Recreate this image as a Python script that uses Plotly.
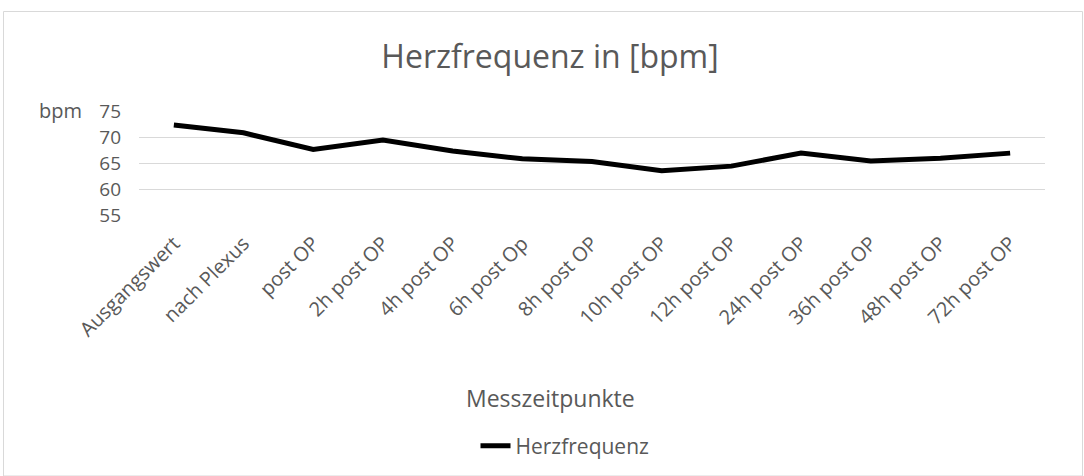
import plotly.graph_objects as go

categories = ["Ausgangswert", "nach Plexus", "post OP", "2h post OP", "4h post OP",
              "6h post Op", "8h post OP", "10h post OP", "12h post OP", "24h post OP",
              "36h post OP", "48h post OP", "72h post OP"]
herzfrequenz = [72.3, 70.8, 67.6, 69.4, 67.3, 65.8, 65.3, 63.5, 64.4, 66.9, 65.4, 65.9, 66.9]
y_ticks = [55, 60, 65, 70, 75]

W, H = 1084, 476
L, R, T, B = 139, 39, 111, 261
pw, ph = W - L - R, H - T - B

def px(x):
    return (x - L) / pw

def py(y):
    return (H - B - y) / ph

txt = "#595959"
font = "Open Sans"

fig = go.Figure()
fig.add_trace(go.Scatter(x=categories, y=herzfrequenz, mode="lines", name="Herzfrequenz",
                         line=dict(color="black", width=5)))

fig.update_layout(
    width=W, height=H,
    margin=dict(l=L, r=R, t=T, b=B),
    paper_bgcolor="white", plot_bgcolor="white",
    font=dict(family=font, color=txt, size=19),
    title=dict(text="Herzfrequenz in [bpm]", xref="container", x=550 / W, xanchor="center",
               y=1 - 57 / H, yanchor="middle",
               font=dict(size=32, color=txt, family=font)),
    showlegend=True,
    legend=dict(orientation="h", xref="container", yref="container", x=565 / W, xanchor="center",
                y=1 - 446 / H, yanchor="middle",
                font=dict(size=21, color=txt), bgcolor="rgba(0,0,0,0)"),
    xaxis=dict(type="category", range=[-0.5, len(categories) - 0.5], showgrid=False, zeroline=False,
               showline=False, ticks="", tickangle=-45, tickfont=dict(size=20, color=txt),
               ticklabelstandoff=12, automargin=False),
    yaxis=dict(range=[55, 75], tickvals=y_ticks, showgrid=True, gridcolor="#d9d9d9", gridwidth=1,
               zeroline=False, showline=False, ticks="", tickfont=dict(size=19, color=txt),
               ticklabelstandoff=17, automargin=False),
    annotations=[
        dict(text="bpm", xref="paper", yref="paper", x=px(60), y=py(110), xanchor="center",
             yanchor="middle", showarrow=False, font=dict(size=20, color=txt)),
        dict(text="Messzeitpunkte", xref="paper", yref="paper", x=px(550), y=py(398), xanchor="center",
             yanchor="middle", showarrow=False, font=dict(size=23, color=txt)),
    ],
    shapes=[dict(type="rect", xref="paper", yref="paper", x0=px(3.5), x1=px(1082.5), y0=py(476),
                 y1=py(11.5), line=dict(color="#d9d9d9", width=1), layer="below")],
)

fig.write_html("out.html", config={"displayModeBar": False},
               post_script="document.body.style.margin='0px';")
